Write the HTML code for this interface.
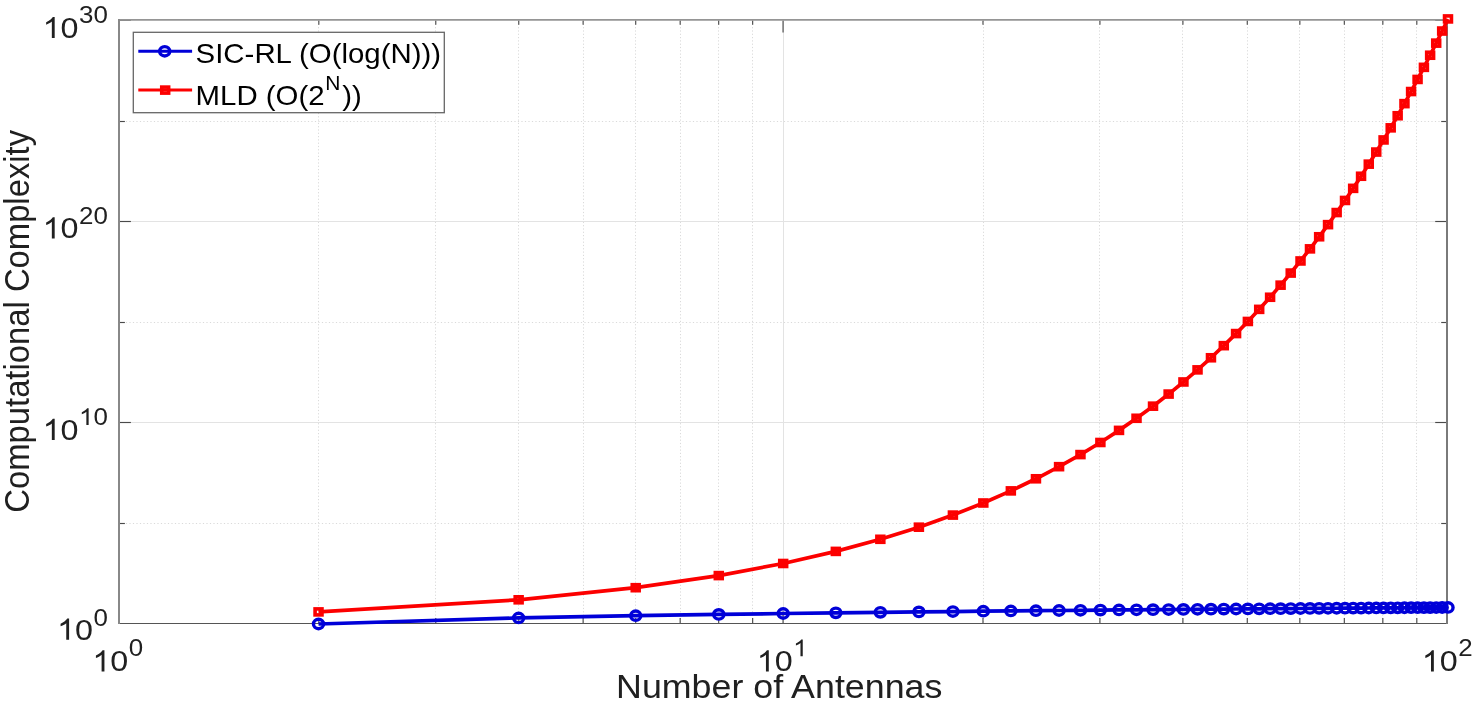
<!DOCTYPE html><html><head><meta charset="utf-8"><style>html,body{margin:0;padding:0;background:#fff;}svg{display:block;will-change:transform;}text{font-family:"Liberation Sans",sans-serif;}</style></head><body>
<svg width="1476" height="706" viewBox="0 0 1476 706">
<defs><path id="one" d="M763 0H583V1147C540 1106 483 1064 413 1023C343 982 280 951 223 931V1105C324 1152 412 1210 487 1277C562 1344 615 1409 646 1466H763Z"/></defs>
<rect width="1476" height="706" fill="#fff"/>
<style>.mg{stroke:#dadada;stroke-width:1;stroke-dasharray:1.2 2.1}.mgh{stroke:#dadada;stroke-width:1;stroke-dasharray:1.2 2.3}.Mg{stroke:#e3e3e3;stroke-width:1}.tk{stroke:#4a4a4a;stroke-width:1.15}</style>
<line x1="318.50" y1="20.5" x2="318.50" y2="623.5" class="mg"/><line x1="435.50" y1="20.5" x2="435.50" y2="623.5" class="mg"/><line x1="518.50" y1="20.5" x2="518.50" y2="623.5" class="mg"/><line x1="583.50" y1="20.5" x2="583.50" y2="623.5" class="mg"/><line x1="635.50" y1="20.5" x2="635.50" y2="623.5" class="mg"/><line x1="680.50" y1="20.5" x2="680.50" y2="623.5" class="mg"/><line x1="718.50" y1="20.5" x2="718.50" y2="623.5" class="mg"/><line x1="752.50" y1="20.5" x2="752.50" y2="623.5" class="mg"/><line x1="983.50" y1="20.5" x2="983.50" y2="623.5" class="mg"/><line x1="1099.50" y1="20.5" x2="1099.50" y2="623.5" class="mg"/><line x1="1182.50" y1="20.5" x2="1182.50" y2="623.5" class="mg"/><line x1="1247.50" y1="20.5" x2="1247.50" y2="623.5" class="mg"/><line x1="1299.50" y1="20.5" x2="1299.50" y2="623.5" class="mg"/><line x1="1344.50" y1="20.5" x2="1344.50" y2="623.5" class="mg"/><line x1="1382.50" y1="20.5" x2="1382.50" y2="623.5" class="mg"/><line x1="1416.50" y1="20.5" x2="1416.50" y2="623.5" class="mg"/><line x1="118.9" y1="523.50" x2="1447.2" y2="523.50" class="mgh"/><line x1="118.9" y1="322.50" x2="1447.2" y2="322.50" class="mgh"/><line x1="118.9" y1="121.50" x2="1447.2" y2="121.50" class="mgh"/><line x1="783.50" y1="20.5" x2="783.50" y2="623.5" class="Mg"/><line x1="118.9" y1="422.50" x2="1447.2" y2="422.50" class="Mg"/><line x1="118.9" y1="221.50" x2="1447.2" y2="221.50" class="Mg"/>
<line x1="318.83" y1="623.5" x2="318.83" y2="618.0" class="tk"/><line x1="318.83" y1="20.5" x2="318.83" y2="24.7" class="tk"/><line x1="435.78" y1="623.5" x2="435.78" y2="618.0" class="tk"/><line x1="435.78" y1="20.5" x2="435.78" y2="24.7" class="tk"/><line x1="518.76" y1="623.5" x2="518.76" y2="618.0" class="tk"/><line x1="518.76" y1="20.5" x2="518.76" y2="24.7" class="tk"/><line x1="583.12" y1="623.5" x2="583.12" y2="618.0" class="tk"/><line x1="583.12" y1="20.5" x2="583.12" y2="24.7" class="tk"/><line x1="635.71" y1="623.5" x2="635.71" y2="618.0" class="tk"/><line x1="635.71" y1="20.5" x2="635.71" y2="24.7" class="tk"/><line x1="680.17" y1="623.5" x2="680.17" y2="618.0" class="tk"/><line x1="680.17" y1="20.5" x2="680.17" y2="24.7" class="tk"/><line x1="718.69" y1="623.5" x2="718.69" y2="618.0" class="tk"/><line x1="718.69" y1="20.5" x2="718.69" y2="24.7" class="tk"/><line x1="752.66" y1="623.5" x2="752.66" y2="618.0" class="tk"/><line x1="752.66" y1="20.5" x2="752.66" y2="24.7" class="tk"/><line x1="982.98" y1="623.5" x2="982.98" y2="618.0" class="tk"/><line x1="982.98" y1="20.5" x2="982.98" y2="24.7" class="tk"/><line x1="1099.93" y1="623.5" x2="1099.93" y2="618.0" class="tk"/><line x1="1099.93" y1="20.5" x2="1099.93" y2="24.7" class="tk"/><line x1="1182.91" y1="623.5" x2="1182.91" y2="618.0" class="tk"/><line x1="1182.91" y1="20.5" x2="1182.91" y2="24.7" class="tk"/><line x1="1247.27" y1="623.5" x2="1247.27" y2="618.0" class="tk"/><line x1="1247.27" y1="20.5" x2="1247.27" y2="24.7" class="tk"/><line x1="1299.86" y1="623.5" x2="1299.86" y2="618.0" class="tk"/><line x1="1299.86" y1="20.5" x2="1299.86" y2="24.7" class="tk"/><line x1="1344.32" y1="623.5" x2="1344.32" y2="618.0" class="tk"/><line x1="1344.32" y1="20.5" x2="1344.32" y2="24.7" class="tk"/><line x1="1382.84" y1="623.5" x2="1382.84" y2="618.0" class="tk"/><line x1="1382.84" y1="20.5" x2="1382.84" y2="24.7" class="tk"/><line x1="1416.81" y1="623.5" x2="1416.81" y2="618.0" class="tk"/><line x1="1416.81" y1="20.5" x2="1416.81" y2="24.7" class="tk"/><line x1="783.05" y1="623.5" x2="783.05" y2="611.5" class="tk"/><line x1="783.05" y1="20.5" x2="783.05" y2="32.5" class="tk"/><line x1="118.9" y1="20.2" x2="130.9" y2="20.2" class="tk"/><line x1="1447.2" y1="20.2" x2="1435.2" y2="20.2" class="tk"/><line x1="118.9" y1="422.50" x2="130.9" y2="422.50" class="tk"/><line x1="1447.2" y1="422.50" x2="1435.2" y2="422.50" class="tk"/><line x1="118.9" y1="221.50" x2="130.9" y2="221.50" class="tk"/><line x1="1447.2" y1="221.50" x2="1435.2" y2="221.50" class="tk"/><line x1="118.9" y1="523.50" x2="124.9" y2="523.50" class="tk"/><line x1="1447.2" y1="523.50" x2="1441.2" y2="523.50" class="tk"/><line x1="118.9" y1="322.50" x2="124.9" y2="322.50" class="tk"/><line x1="1447.2" y1="322.50" x2="1441.2" y2="322.50" class="tk"/><line x1="118.9" y1="121.50" x2="124.9" y2="121.50" class="tk"/><line x1="1447.2" y1="121.50" x2="1441.2" y2="121.50" class="tk"/>
<line x1="118" y1="19.8" x2="1448" y2="19.8" stroke="#959595" stroke-width="1.8"/>
<line x1="118" y1="623.5" x2="1448" y2="623.5" stroke="#555" stroke-width="1.1"/>
<line x1="119" y1="19" x2="119" y2="624" stroke="#888" stroke-width="2"/>
<line x1="1447" y1="19" x2="1447" y2="624" stroke="#7a7a7a" stroke-width="2"/>
<polyline points="318.52,611.90 518.65,599.80 635.71,587.70 718.77,575.59 783.20,563.49 835.84,551.39 880.35,539.29 918.90,527.19 952.91,515.09 983.32,502.99 1010.84,490.88 1035.96,478.78 1059.07,466.68 1080.47,454.58 1100.39,442.48 1119.02,430.38 1136.53,418.28 1153.03,406.17 1168.64,394.07 1183.45,381.97 1197.54,369.87 1210.97,357.77 1223.80,345.67 1236.09,333.57 1247.88,321.46 1259.20,309.36 1270.10,297.26 1280.60,285.16 1290.73,273.06 1300.51,260.96 1309.98,248.86 1319.15,236.76 1328.03,224.65 1336.65,212.55 1345.02,200.45 1353.15,188.35 1361.07,176.25 1368.76,164.15 1376.26,152.05 1383.57,139.94 1390.70,127.84 1397.66,115.74 1404.45,103.64 1411.09,91.54 1417.58,79.44 1423.93,67.34 1430.14,55.23 1436.21,43.13 1442.17,31.03 1448.00,18.93" fill="none" stroke="#fc0000" stroke-width="3.7" stroke-linejoin="round"/>
<rect x="315.08" y="608.90" width="6.89" height="6.0" fill="none" stroke="#fc0000" stroke-width="3.6"/>
<rect x="515.20" y="596.80" width="6.89" height="6.0" fill="none" stroke="#fc0000" stroke-width="3.6"/>
<rect x="632.27" y="584.70" width="6.89" height="6.0" fill="none" stroke="#fc0000" stroke-width="3.6"/>
<rect x="715.33" y="572.59" width="6.89" height="6.0" fill="none" stroke="#fc0000" stroke-width="3.6"/>
<rect x="779.75" y="560.49" width="6.89" height="6.0" fill="none" stroke="#fc0000" stroke-width="3.6"/>
<rect x="832.39" y="548.39" width="6.89" height="6.0" fill="none" stroke="#fc0000" stroke-width="3.6"/>
<rect x="876.90" y="536.29" width="6.89" height="6.0" fill="none" stroke="#fc0000" stroke-width="3.6"/>
<rect x="915.45" y="524.19" width="6.89" height="6.0" fill="none" stroke="#fc0000" stroke-width="3.6"/>
<rect x="949.46" y="512.09" width="6.89" height="6.0" fill="none" stroke="#fc0000" stroke-width="3.6"/>
<rect x="979.88" y="499.99" width="6.89" height="6.0" fill="none" stroke="#fc0000" stroke-width="3.6"/>
<rect x="1007.40" y="487.88" width="6.89" height="6.0" fill="none" stroke="#fc0000" stroke-width="3.6"/>
<rect x="1032.52" y="475.78" width="6.89" height="6.0" fill="none" stroke="#fc0000" stroke-width="3.6"/>
<rect x="1055.63" y="463.68" width="6.89" height="6.0" fill="none" stroke="#fc0000" stroke-width="3.6"/>
<rect x="1077.02" y="451.58" width="6.89" height="6.0" fill="none" stroke="#fc0000" stroke-width="3.6"/>
<rect x="1096.94" y="439.48" width="6.89" height="6.0" fill="none" stroke="#fc0000" stroke-width="3.6"/>
<rect x="1115.58" y="427.38" width="6.89" height="6.0" fill="none" stroke="#fc0000" stroke-width="3.6"/>
<rect x="1133.08" y="415.28" width="6.89" height="6.0" fill="none" stroke="#fc0000" stroke-width="3.6"/>
<rect x="1149.58" y="403.17" width="6.89" height="6.0" fill="none" stroke="#fc0000" stroke-width="3.6"/>
<rect x="1165.19" y="391.07" width="6.89" height="6.0" fill="none" stroke="#fc0000" stroke-width="3.6"/>
<rect x="1180.00" y="378.97" width="6.89" height="6.0" fill="none" stroke="#fc0000" stroke-width="3.6"/>
<rect x="1194.09" y="366.87" width="6.89" height="6.0" fill="none" stroke="#fc0000" stroke-width="3.6"/>
<rect x="1207.52" y="354.77" width="6.89" height="6.0" fill="none" stroke="#fc0000" stroke-width="3.6"/>
<rect x="1220.36" y="342.67" width="6.89" height="6.0" fill="none" stroke="#fc0000" stroke-width="3.6"/>
<rect x="1232.64" y="330.57" width="6.89" height="6.0" fill="none" stroke="#fc0000" stroke-width="3.6"/>
<rect x="1244.43" y="318.46" width="6.89" height="6.0" fill="none" stroke="#fc0000" stroke-width="3.6"/>
<rect x="1255.75" y="306.36" width="6.89" height="6.0" fill="none" stroke="#fc0000" stroke-width="3.6"/>
<rect x="1266.65" y="294.26" width="6.89" height="6.0" fill="none" stroke="#fc0000" stroke-width="3.6"/>
<rect x="1277.15" y="282.16" width="6.89" height="6.0" fill="none" stroke="#fc0000" stroke-width="3.6"/>
<rect x="1287.28" y="270.06" width="6.89" height="6.0" fill="none" stroke="#fc0000" stroke-width="3.6"/>
<rect x="1297.07" y="257.96" width="6.89" height="6.0" fill="none" stroke="#fc0000" stroke-width="3.6"/>
<rect x="1306.54" y="245.86" width="6.89" height="6.0" fill="none" stroke="#fc0000" stroke-width="3.6"/>
<rect x="1315.70" y="233.76" width="6.89" height="6.0" fill="none" stroke="#fc0000" stroke-width="3.6"/>
<rect x="1324.59" y="221.65" width="6.89" height="6.0" fill="none" stroke="#fc0000" stroke-width="3.6"/>
<rect x="1333.21" y="209.55" width="6.89" height="6.0" fill="none" stroke="#fc0000" stroke-width="3.6"/>
<rect x="1341.57" y="197.45" width="6.89" height="6.0" fill="none" stroke="#fc0000" stroke-width="3.6"/>
<rect x="1349.71" y="185.35" width="6.89" height="6.0" fill="none" stroke="#fc0000" stroke-width="3.6"/>
<rect x="1357.62" y="173.25" width="6.89" height="6.0" fill="none" stroke="#fc0000" stroke-width="3.6"/>
<rect x="1365.32" y="161.15" width="6.89" height="6.0" fill="none" stroke="#fc0000" stroke-width="3.6"/>
<rect x="1372.82" y="149.05" width="6.89" height="6.0" fill="none" stroke="#fc0000" stroke-width="3.6"/>
<rect x="1380.13" y="136.94" width="6.89" height="6.0" fill="none" stroke="#fc0000" stroke-width="3.6"/>
<rect x="1387.26" y="124.84" width="6.89" height="6.0" fill="none" stroke="#fc0000" stroke-width="3.6"/>
<rect x="1394.21" y="112.74" width="6.89" height="6.0" fill="none" stroke="#fc0000" stroke-width="3.6"/>
<rect x="1401.01" y="100.64" width="6.89" height="6.0" fill="none" stroke="#fc0000" stroke-width="3.6"/>
<rect x="1407.65" y="88.54" width="6.89" height="6.0" fill="none" stroke="#fc0000" stroke-width="3.6"/>
<rect x="1414.13" y="76.44" width="6.89" height="6.0" fill="none" stroke="#fc0000" stroke-width="3.6"/>
<rect x="1420.48" y="64.34" width="6.89" height="6.0" fill="none" stroke="#fc0000" stroke-width="3.6"/>
<rect x="1426.69" y="52.23" width="6.89" height="6.0" fill="none" stroke="#fc0000" stroke-width="3.6"/>
<rect x="1432.77" y="40.13" width="6.89" height="6.0" fill="none" stroke="#fc0000" stroke-width="3.6"/>
<rect x="1438.72" y="28.03" width="6.89" height="6.0" fill="none" stroke="#fc0000" stroke-width="3.6"/>
<rect x="1444.55" y="15.93" width="6.89" height="6.0" fill="none" stroke="#fc0000" stroke-width="3.6"/>
<polyline points="318.52,624.00 518.65,617.95 635.71,615.71 718.77,614.41 783.20,613.52 835.84,612.85 880.35,612.33 918.90,611.90 952.91,611.54 983.32,611.22 1010.84,610.95 1035.96,610.71 1059.07,610.49 1080.47,610.29 1100.39,610.11 1119.02,609.95 1136.53,609.80 1153.03,609.66 1168.64,609.53 1183.45,609.41 1197.54,609.29 1210.97,609.18 1223.80,609.08 1236.09,608.98 1247.88,608.89 1259.20,608.81 1270.10,608.72 1280.60,608.64 1290.73,608.57 1300.51,608.50 1309.98,608.43 1319.15,608.36 1328.03,608.29 1336.65,608.23 1345.02,608.17 1353.15,608.12 1361.07,608.06 1368.76,608.01 1376.26,607.95 1383.57,607.90 1390.70,607.85 1397.66,607.81 1404.45,607.76 1411.09,607.72 1417.58,607.67 1423.93,607.63 1430.14,607.59 1436.21,607.55 1442.17,607.51 1448.00,607.47" fill="none" stroke="#0000d8" stroke-width="3.7" stroke-linejoin="round"/>
<ellipse cx="318.52" cy="624.00" rx="5.06" ry="4.7" fill="none" stroke="#0000d8" stroke-width="3.4"/>
<ellipse cx="518.65" cy="617.95" rx="5.06" ry="4.7" fill="none" stroke="#0000d8" stroke-width="3.4"/>
<ellipse cx="635.71" cy="615.71" rx="5.06" ry="4.7" fill="none" stroke="#0000d8" stroke-width="3.4"/>
<ellipse cx="718.77" cy="614.41" rx="5.06" ry="4.7" fill="none" stroke="#0000d8" stroke-width="3.4"/>
<ellipse cx="783.20" cy="613.52" rx="5.06" ry="4.7" fill="none" stroke="#0000d8" stroke-width="3.4"/>
<ellipse cx="835.84" cy="612.85" rx="5.06" ry="4.7" fill="none" stroke="#0000d8" stroke-width="3.4"/>
<ellipse cx="880.35" cy="612.33" rx="5.06" ry="4.7" fill="none" stroke="#0000d8" stroke-width="3.4"/>
<ellipse cx="918.90" cy="611.90" rx="5.06" ry="4.7" fill="none" stroke="#0000d8" stroke-width="3.4"/>
<ellipse cx="952.91" cy="611.54" rx="5.06" ry="4.7" fill="none" stroke="#0000d8" stroke-width="3.4"/>
<ellipse cx="983.32" cy="611.22" rx="5.06" ry="4.7" fill="none" stroke="#0000d8" stroke-width="3.4"/>
<ellipse cx="1010.84" cy="610.95" rx="5.06" ry="4.7" fill="none" stroke="#0000d8" stroke-width="3.4"/>
<ellipse cx="1035.96" cy="610.71" rx="5.06" ry="4.7" fill="none" stroke="#0000d8" stroke-width="3.4"/>
<ellipse cx="1059.07" cy="610.49" rx="5.06" ry="4.7" fill="none" stroke="#0000d8" stroke-width="3.4"/>
<ellipse cx="1080.47" cy="610.29" rx="5.06" ry="4.7" fill="none" stroke="#0000d8" stroke-width="3.4"/>
<ellipse cx="1100.39" cy="610.11" rx="5.06" ry="4.7" fill="none" stroke="#0000d8" stroke-width="3.4"/>
<ellipse cx="1119.02" cy="609.95" rx="5.06" ry="4.7" fill="none" stroke="#0000d8" stroke-width="3.4"/>
<ellipse cx="1136.53" cy="609.80" rx="5.06" ry="4.7" fill="none" stroke="#0000d8" stroke-width="3.4"/>
<ellipse cx="1153.03" cy="609.66" rx="5.06" ry="4.7" fill="none" stroke="#0000d8" stroke-width="3.4"/>
<ellipse cx="1168.64" cy="609.53" rx="5.06" ry="4.7" fill="none" stroke="#0000d8" stroke-width="3.4"/>
<ellipse cx="1183.45" cy="609.41" rx="5.06" ry="4.7" fill="none" stroke="#0000d8" stroke-width="3.4"/>
<ellipse cx="1197.54" cy="609.29" rx="5.06" ry="4.7" fill="none" stroke="#0000d8" stroke-width="3.4"/>
<ellipse cx="1210.97" cy="609.18" rx="5.06" ry="4.7" fill="none" stroke="#0000d8" stroke-width="3.4"/>
<ellipse cx="1223.80" cy="609.08" rx="5.06" ry="4.7" fill="none" stroke="#0000d8" stroke-width="3.4"/>
<ellipse cx="1236.09" cy="608.98" rx="5.06" ry="4.7" fill="none" stroke="#0000d8" stroke-width="3.4"/>
<ellipse cx="1247.88" cy="608.89" rx="5.06" ry="4.7" fill="none" stroke="#0000d8" stroke-width="3.4"/>
<ellipse cx="1259.20" cy="608.81" rx="5.06" ry="4.7" fill="none" stroke="#0000d8" stroke-width="3.4"/>
<ellipse cx="1270.10" cy="608.72" rx="5.06" ry="4.7" fill="none" stroke="#0000d8" stroke-width="3.4"/>
<ellipse cx="1280.60" cy="608.64" rx="5.06" ry="4.7" fill="none" stroke="#0000d8" stroke-width="3.4"/>
<ellipse cx="1290.73" cy="608.57" rx="5.06" ry="4.7" fill="none" stroke="#0000d8" stroke-width="3.4"/>
<ellipse cx="1300.51" cy="608.50" rx="5.06" ry="4.7" fill="none" stroke="#0000d8" stroke-width="3.4"/>
<ellipse cx="1309.98" cy="608.43" rx="5.06" ry="4.7" fill="none" stroke="#0000d8" stroke-width="3.4"/>
<ellipse cx="1319.15" cy="608.36" rx="5.06" ry="4.7" fill="none" stroke="#0000d8" stroke-width="3.4"/>
<ellipse cx="1328.03" cy="608.29" rx="5.06" ry="4.7" fill="none" stroke="#0000d8" stroke-width="3.4"/>
<ellipse cx="1336.65" cy="608.23" rx="5.06" ry="4.7" fill="none" stroke="#0000d8" stroke-width="3.4"/>
<ellipse cx="1345.02" cy="608.17" rx="5.06" ry="4.7" fill="none" stroke="#0000d8" stroke-width="3.4"/>
<ellipse cx="1353.15" cy="608.12" rx="5.06" ry="4.7" fill="none" stroke="#0000d8" stroke-width="3.4"/>
<ellipse cx="1361.07" cy="608.06" rx="5.06" ry="4.7" fill="none" stroke="#0000d8" stroke-width="3.4"/>
<ellipse cx="1368.76" cy="608.01" rx="5.06" ry="4.7" fill="none" stroke="#0000d8" stroke-width="3.4"/>
<ellipse cx="1376.26" cy="607.95" rx="5.06" ry="4.7" fill="none" stroke="#0000d8" stroke-width="3.4"/>
<ellipse cx="1383.57" cy="607.90" rx="5.06" ry="4.7" fill="none" stroke="#0000d8" stroke-width="3.4"/>
<ellipse cx="1390.70" cy="607.85" rx="5.06" ry="4.7" fill="none" stroke="#0000d8" stroke-width="3.4"/>
<ellipse cx="1397.66" cy="607.81" rx="5.06" ry="4.7" fill="none" stroke="#0000d8" stroke-width="3.4"/>
<ellipse cx="1404.45" cy="607.76" rx="5.06" ry="4.7" fill="none" stroke="#0000d8" stroke-width="3.4"/>
<ellipse cx="1411.09" cy="607.72" rx="5.06" ry="4.7" fill="none" stroke="#0000d8" stroke-width="3.4"/>
<ellipse cx="1417.58" cy="607.67" rx="5.06" ry="4.7" fill="none" stroke="#0000d8" stroke-width="3.4"/>
<ellipse cx="1423.93" cy="607.63" rx="5.06" ry="4.7" fill="none" stroke="#0000d8" stroke-width="3.4"/>
<ellipse cx="1430.14" cy="607.59" rx="5.06" ry="4.7" fill="none" stroke="#0000d8" stroke-width="3.4"/>
<ellipse cx="1436.21" cy="607.55" rx="5.06" ry="4.7" fill="none" stroke="#0000d8" stroke-width="3.4"/>
<ellipse cx="1442.17" cy="607.51" rx="5.06" ry="4.7" fill="none" stroke="#0000d8" stroke-width="3.4"/>
<ellipse cx="1448.00" cy="607.47" rx="5.06" ry="4.7" fill="none" stroke="#0000d8" stroke-width="3.4"/>
<use href="#one" transform="translate(57.06,639.70) scale(0.01578,-0.01443)" fill="#202020"/><text transform="translate(75.03,639.70) scale(1.077,1.01)" font-size="30" fill="#202020">0</text><text transform="translate(93.40,625.70) scale(1.08,1.0)" font-size="24" fill="#202020">0</text>
<use href="#one" transform="translate(42.64,440.00) scale(0.01578,-0.01443)" fill="#202020"/><text transform="translate(60.61,440.00) scale(1.077,1.01)" font-size="30" fill="#202020">0</text><use href="#one" transform="translate(78.98,424.90) scale(0.01266,-0.01143)" fill="#202020"/><text transform="translate(93.40,424.90) scale(1.08,1.0)" font-size="24" fill="#202020">0</text>
<use href="#one" transform="translate(42.64,238.40) scale(0.01578,-0.01443)" fill="#202020"/><text transform="translate(60.61,238.40) scale(1.077,1.01)" font-size="30" fill="#202020">0</text><text transform="translate(78.98,223.50) scale(1.08,1.0)" font-size="24" fill="#202020">2</text><text transform="translate(93.40,223.50) scale(1.08,1.0)" font-size="24" fill="#202020">0</text>
<use href="#one" transform="translate(42.64,38.10) scale(0.01578,-0.01443)" fill="#202020"/><text transform="translate(60.61,38.10) scale(1.077,1.01)" font-size="30" fill="#202020">0</text><text transform="translate(78.98,22.90) scale(1.08,1.0)" font-size="24" fill="#202020">3</text><text transform="translate(93.40,22.90) scale(1.08,1.0)" font-size="24" fill="#202020">0</text>
<use href="#one" transform="translate(92.40,671.40) scale(0.01578,-0.01443)" fill="#202020"/><text transform="translate(110.37,671.40) scale(1.077,1.01)" font-size="30" fill="#202020">0</text><text transform="translate(128.74,656.20) scale(1.08,1.0)" font-size="24" fill="#202020">0</text>
<use href="#one" transform="translate(756.75,671.40) scale(0.01578,-0.01443)" fill="#202020"/><text transform="translate(774.72,671.40) scale(1.077,1.01)" font-size="30" fill="#202020">0</text><use href="#one" transform="translate(793.09,656.20) scale(0.01266,-0.01143)" fill="#202020"/>
<use href="#one" transform="translate(1421.80,671.40) scale(0.01578,-0.01443)" fill="#202020"/><text transform="translate(1439.77,671.40) scale(1.077,1.01)" font-size="30" fill="#202020">0</text><text transform="translate(1458.14,656.20) scale(1.08,1.0)" font-size="24" fill="#202020">2</text>
<text transform="translate(779.20,697.80) scale(1.077,1.02)" text-anchor="middle" font-size="33.25" fill="#202020">Number of Antennas</text>
<text transform="translate(29.4,321.3) scale(1.085,1) rotate(-90)" text-anchor="middle" font-size="32.8" fill="#202020">Computational Complexity</text>
<rect x="133.3" y="32.3" width="311" height="80.4" fill="#fff" stroke="#666" stroke-width="1.3"/>
<line x1="138.3" y1="51.3" x2="192.1" y2="51.3" stroke="#0000d8" stroke-width="3.0"/>
<ellipse cx="164.70" cy="51.30" rx="5.06" ry="4.7" fill="none" stroke="#0000d8" stroke-width="3.4"/>
<line x1="138.3" y1="90.1" x2="192.1" y2="90.1" stroke="#fc0000" stroke-width="3.0"/>
<rect x="161.75" y="87.10" width="6.89" height="6.0" fill="none" stroke="#fc0000" stroke-width="3.6"/>
<text transform="translate(195.60,62.70) scale(1.077,1.02)" font-size="27.3" fill="#000">SIC-RL (O(log(N)))</text>
<text transform="translate(195.60,104.80) scale(1.077,1.02)" font-size="27.3" fill="#000">MLD (O(2<tspan font-size="19.5" dx="0.6" dy="-14.2">N</tspan><tspan dx="1.6" dy="14.2">))</tspan></text>
</svg></body></html>
